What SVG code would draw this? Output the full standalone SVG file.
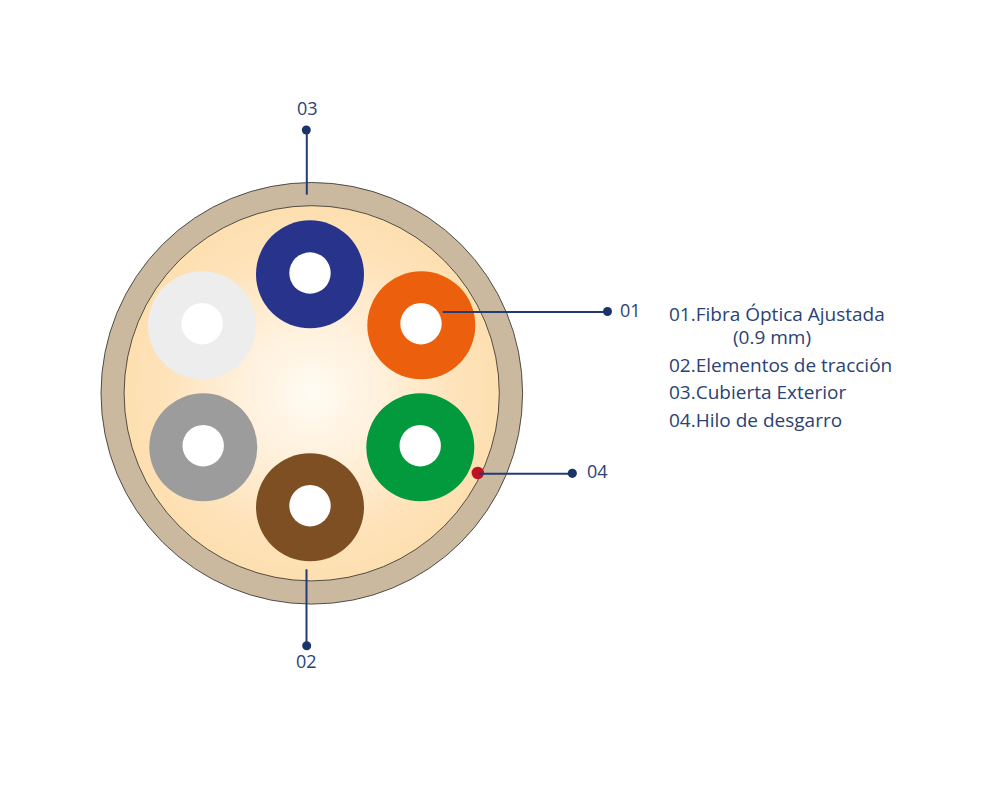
<svg xmlns="http://www.w3.org/2000/svg" width="1000" height="800" viewBox="0 0 1000 800">
<style>
text{font-family:"Open Sans","Noto Sans",sans-serif;font-size:18px;fill:#2a4274}
.leg{font-size:19px}
.hole{fill:#fff}
.ln{stroke:#233b74;stroke-width:2;fill:none}
.dot{fill:#1b3468}
.edge{stroke:#2b2b2b;stroke-width:0.8}
</style>
<defs>
<radialGradient id="core" cx="50%" cy="50%" r="50%">
<stop offset="0" stop-color="#fffbf3"/>
<stop offset="0.4" stop-color="#fff0da"/>
<stop offset="0.8" stop-color="#fee2b8"/>
<stop offset="1" stop-color="#fddfb0"/>
</radialGradient>
</defs>
<rect width="1000" height="800" fill="#fff"/>
<g id="cable">
<circle class="edge" cx="311.800" cy="393.300" r="210.800" fill="#cab99f"/>
<circle class="edge" cx="311.700" cy="393.300" r="187.600" fill="url(#core)"/>
</g>
<g id="fiber-blue"><circle cx="310" cy="274.300" r="54" fill="#28348c"/><circle class="hole" cx="310" cy="273" r="20.700"/></g>
<g id="fiber-orange"><circle cx="421.300" cy="325.300" r="54" fill="#ec5f0d"/><circle class="hole" cx="421" cy="323.700" r="20.700"/></g>
<g id="fiber-white"><circle cx="202" cy="325.300" r="54" fill="#ededed"/><circle class="hole" cx="202.200" cy="323.700" r="20.700"/></g>
<g id="fiber-gray"><circle cx="203.300" cy="447.300" r="54" fill="#9c9c9c"/><circle class="hole" cx="203.200" cy="445.700" r="20.700"/></g>
<g id="fiber-green"><circle cx="420.300" cy="447.300" r="54" fill="#039a3e"/><circle class="hole" cx="420.200" cy="445.700" r="20.700"/></g>
<g id="fiber-brown"><circle cx="310" cy="507.300" r="54" fill="#7d4f23"/><circle class="hole" cx="310" cy="505.700" r="20.700"/></g>
<g id="ripcord"><circle cx="477.800" cy="473" r="6.200" fill="#bd1224"/></g>
<g id="connectors">
<path class="ln" d="M442.700 312H607"/>
<path class="ln" d="M479 473.700H572"/>
<path class="ln" d="M306.800 130V194.700"/>
<path class="ln" d="M306.500 569.300V646"/>
<circle class="dot" cx="607.500" cy="311.500" r="4.500"/>
<circle class="dot" cx="572.300" cy="473.300" r="4.600"/>
<circle class="dot" cx="306.300" cy="130" r="4.500"/>
<circle class="dot" cx="306.700" cy="645.700" r="4.500"/>
</g>
<g id="labels">
<text x="620" y="317">01</text>
<text x="587" y="478">04</text>
<text x="297" y="115">03</text>
<text x="296" y="668">02</text>
</g>
<g id="legend">
<text class="leg" x="669" y="321">01.Fibra Óptica Ajustada</text>
<text class="leg" x="733" y="344">(0.9 mm)</text>
<text class="leg" x="669" y="372">02.Elementos de tracción</text>
<text class="leg" x="669" y="399">03.Cubierta Exterior</text>
<text class="leg" x="669" y="427">04.Hilo de desgarro</text>
</g>
</svg>
